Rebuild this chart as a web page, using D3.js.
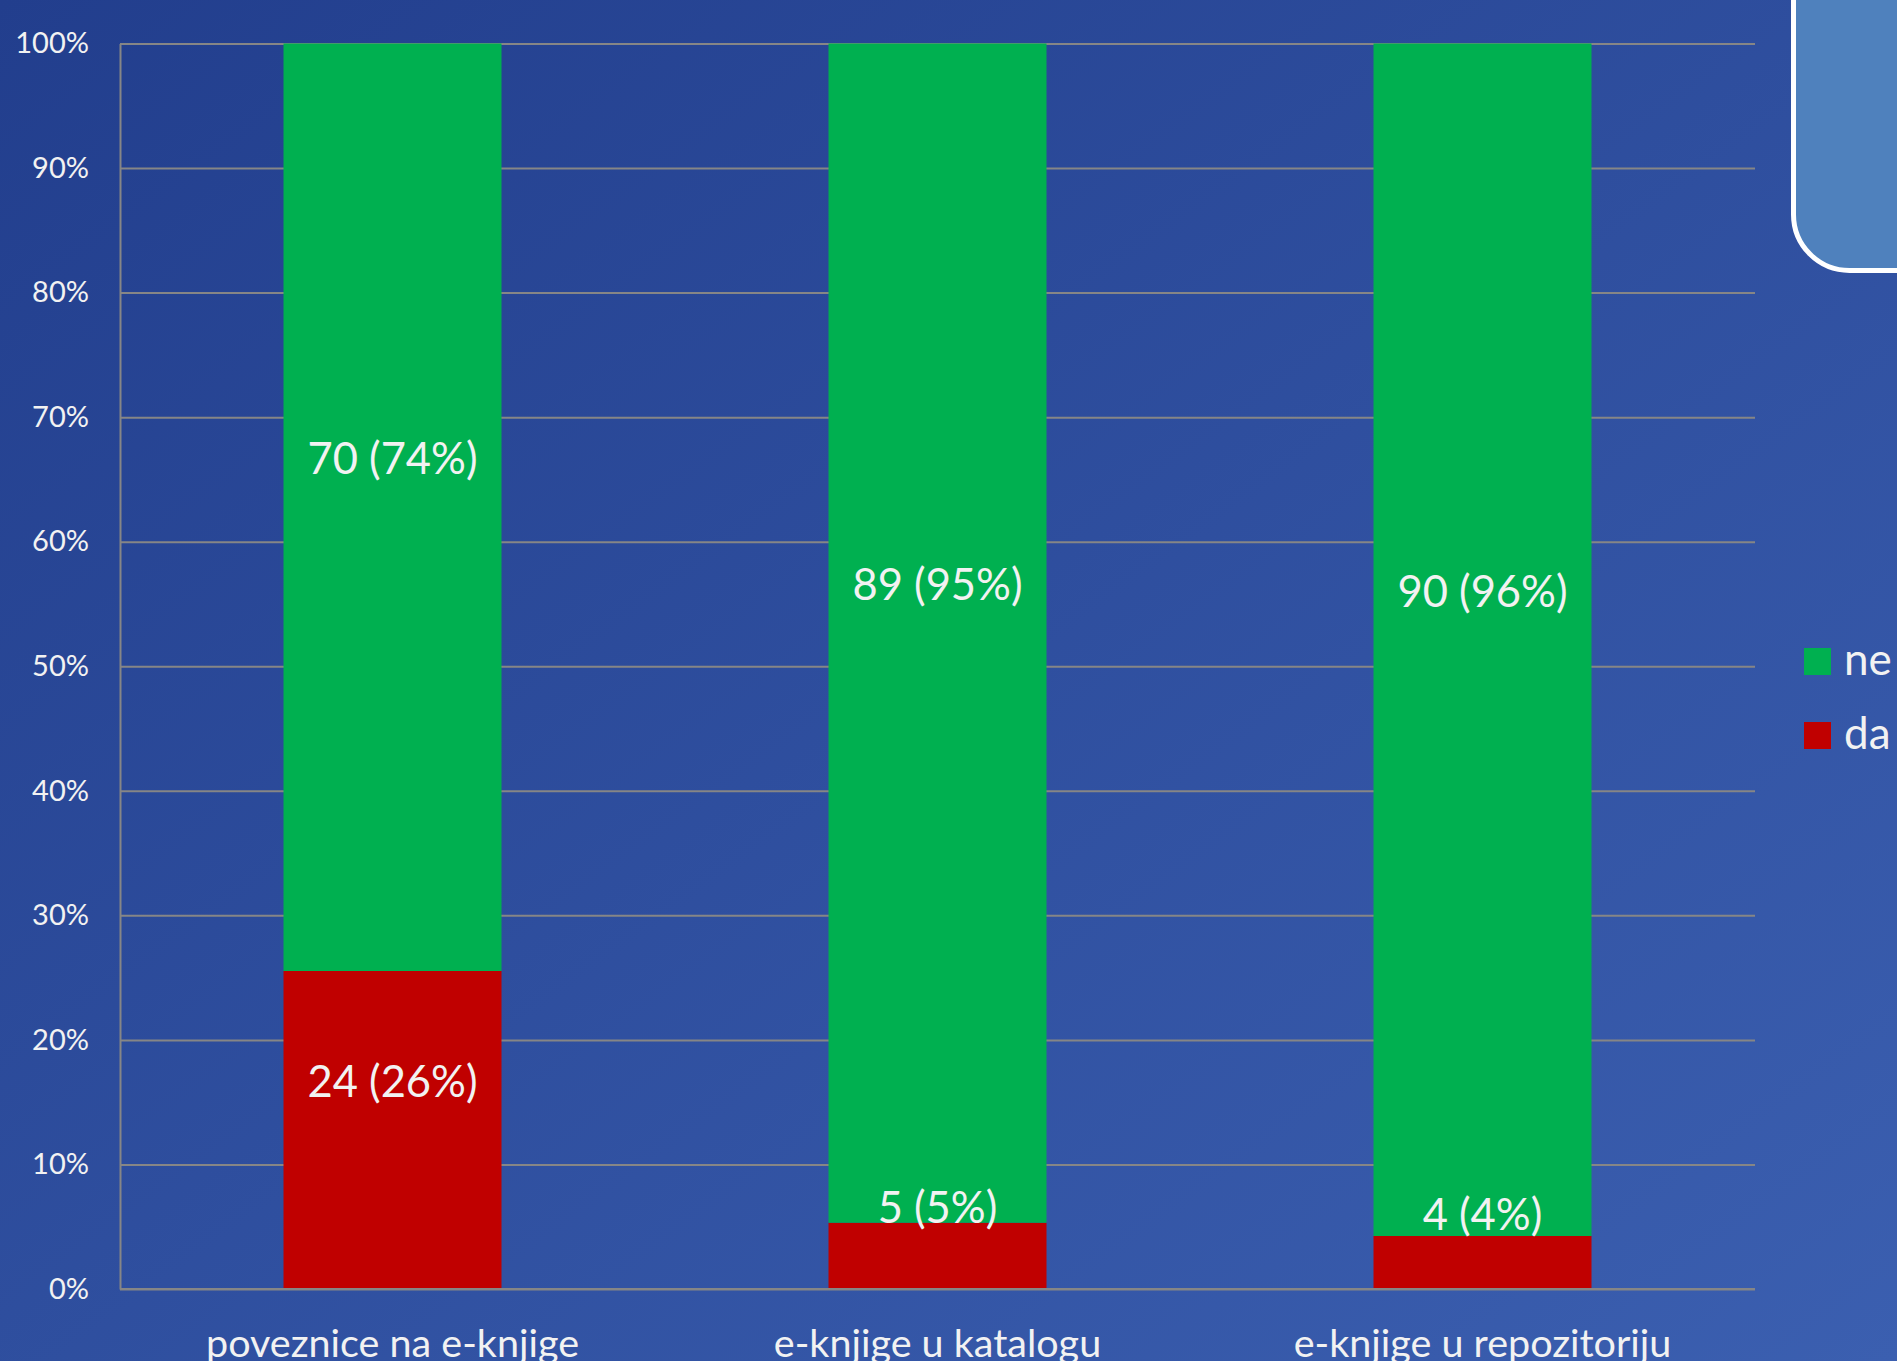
<!DOCTYPE html>
<html>
<head>
<meta charset="utf-8">
<script src="https://cdn.jsdelivr.net/npm/d3@7"></script>
<style>
  html, body { margin: 0; padding: 0; overflow: hidden; }
  body { width: 1897px; height: 1361px; }
  text { font-family: Lato, "Noto Sans", sans-serif; fill: #f2f2f2; }
</style>
</head>
<body>
<div id="chart"></div>
<script>
// data
const categories = ["poveznice na e-knjige", "e-knjige u katalogu", "e-knjige u repozitoriju"];
const seriesNames = ["da", "ne"];
const daValues = [24, 5, 4];
const neValues = [70, 89, 90];
const seriesColors = {da: "#c00000", ne: "#00b050"};
const yTicks = [0, 0.1, 0.2, 0.3, 0.4, 0.5, 0.6, 0.7, 0.8, 0.9, 1];

const W = 1897, H = 1361;
const margin = {left: 120, right: 142, top: 43.5, bottom: 72};

// build rows for the stack (100% stacked)
const rows = categories.map((c, i) => {
  const tot = daValues[i] + neValues[i];
  return {cat: c, da: daValues[i] / tot, ne: neValues[i] / tot,
          daN: daValues[i], neN: neValues[i]};
});

const svg = d3.select("#chart").append("svg")
  .attr("width", W)
  .attr("height", H);

// background gradient
const defs = svg.append("defs");
const grad = defs.append("linearGradient")
  .attr("id", "bg")
  .attr("x1", "0").attr("y1", "0").attr("x2", "1").attr("y2", "1");
grad.append("stop").attr("offset", "0%").attr("stop-color", "#223e8d");
grad.append("stop").attr("offset", "100%").attr("stop-color", "#3b5fb0");
svg.append("rect").attr("width", W).attr("height", H).attr("fill", "url(#bg)");

// decorative rounded box top right
svg.append("rect")
  .attr("x", 1793.5).attr("y", -80)
  .attr("width", 200).attr("height", 350.5)
  .attr("rx", 56).attr("ry", 56)
  .attr("fill", "#4f81bd")
  .attr("stroke", "#ffffff")
  .attr("stroke-width", 5);

const x = d3.scaleBand()
  .domain(categories)
  .range([margin.left, W - margin.right])
  .paddingInner(0.6)
  .paddingOuter(0.3);

const y = d3.scaleLinear()
  .domain([0, 1])
  .range([H - margin.bottom, margin.top]);

// y axis with gridlines
const yAxis = d3.axisLeft(y)
  .tickValues(yTicks)
  .tickFormat(d3.format(".0%"))
  .tickSize(-(W - margin.right - margin.left))
  .tickSizeOuter(0)
  .tickPadding(31);

const gy = svg.append("g")
  .attr("transform", "translate(" + margin.left + ",0)")
  .call(yAxis);
gy.select(".domain").attr("stroke", "#868686").attr("stroke-width", 2);
gy.selectAll(".tick line").attr("stroke", "#868686").attr("stroke-width", 2);
gy.selectAll(".tick text")
  .attr("fill", "#f2f2f2")
  .style("font-size", "29px")
  .style("font-family", "Lato, sans-serif");

// stacked bars
const stack = d3.stack().keys(seriesNames);
const layers = stack(rows);

const groups = svg.selectAll("g.layer")
  .data(layers)
  .enter()
  .append("g")
  .attr("class", "layer")
  .attr("fill", d => seriesColors[d.key]);

groups.selectAll("rect")
  .data(d => d)
  .enter()
  .append("rect")
  .attr("x", d => x(d.data.cat))
  .attr("width", x.bandwidth())
  .attr("y", d => y(d[1]))
  .attr("height", d => y(d[0]) - y(d[1]));

// data labels (shifted up a bit from segment centre like in the original)
// drawn after all bars so the small red labels stay on top of the green
const labelShift = -50;
const labelData = [];
layers.forEach(layer => layer.forEach(d => labelData.push({key: layer.key, seg: d})));

svg.append("g").selectAll("text")
  .data(labelData)
  .enter()
  .append("text")
  .attr("x", d => x(d.seg.data.cat) + x.bandwidth() / 2)
  .attr("y", d => (y(d.seg[0]) + y(d.seg[1])) / 2 + labelShift)
  .attr("text-anchor", "middle")
  .attr("dominant-baseline", "central")
  .style("font-size", "43.5px")
  .text(d => {
    const n = d.seg.data[d.key + "N"];
    const p = Math.round(d.seg.data[d.key] * 100);
    return n + " (" + p + "%)";
  });

// x axis line
svg.append("line")
  .attr("x1", margin.left).attr("x2", W - margin.right)
  .attr("y1", y(0)).attr("y2", y(0))
  .attr("stroke", "#868686").attr("stroke-width", 2);

// category labels
const xAxis = d3.axisBottom(x).tickSize(0);
const gx = svg.append("g")
  .attr("transform", "translate(0," + y(0) + ")")
  .call(xAxis);
gx.select(".domain").remove();
gx.selectAll(".tick text")
  .attr("y", 68)
  .attr("dy", 0)
  .attr("fill", "#f2f2f2")
  .style("font-size", "39.5px")
  .style("font-family", "Lato, sans-serif");

// legend
const legendItems = ["ne", "da"];
const legend = svg.selectAll("g.legend")
  .data(legendItems)
  .enter()
  .append("g")
  .attr("class", "legend")
  .attr("transform", (d, i) => "translate(1804," + (648 + i * 74) + ")");
legend.append("rect")
  .attr("width", 27).attr("height", 27)
  .attr("fill", d => seriesColors[d]);
legend.append("text")
  .attr("x", 40).attr("y", 27)
  .style("font-size", "44px")
  .text(d => d);
</script>
</body>
</html>
